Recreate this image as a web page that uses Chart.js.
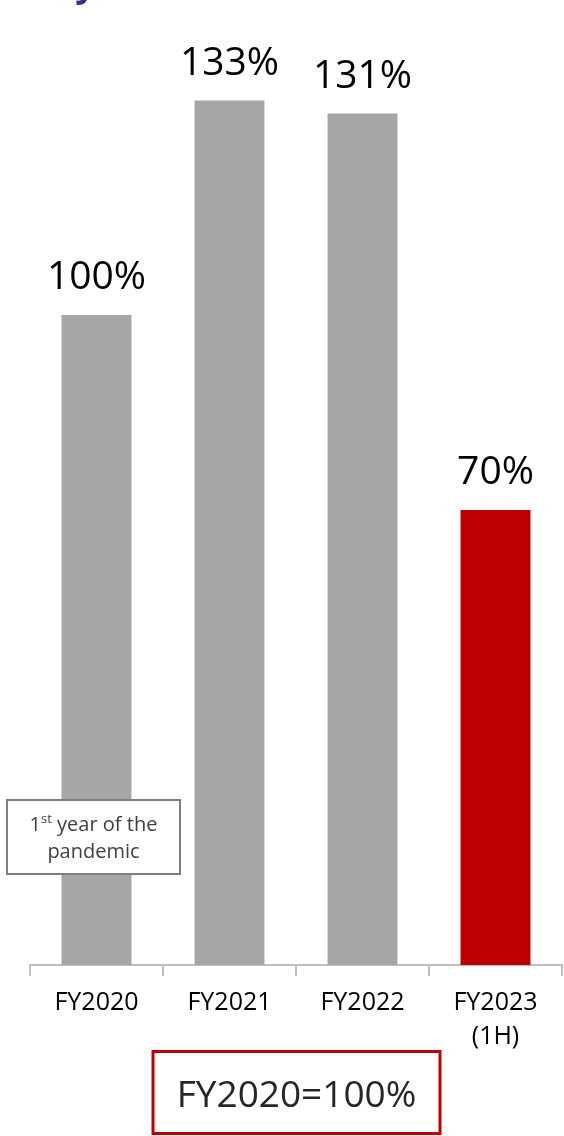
<!DOCTYPE html>
<html lang="en">
<head>
    <meta charset="UTF-8">
    <title>FY index</title>
    <style>
        * { box-sizing: border-box; }
        body { margin: 0; background: #fff; }
        .wrap { width: 564px; height: 1136px; position: relative; }
    </style>
</head>
<body>
    <div class="wrap">
        <canvas id="mychart"></canvas>
    </div>

    <script src="https://cdn.jsdelivr.net/npm/chart.js@4.4.1/dist/chart.umd.min.js"></script>
    <script>
        const years = ["FY2020", "FY2021", "FY2022", ["FY2023", "(1H)"]];
        const ratio = [100, 133, 131, 70];
        const barColors = ["#a6a6a6", "#a6a6a6", "#a6a6a6", "#c00000"];
        const baseNote = "FY2020=100%";

        const FONT = "'Open Sans', 'Noto Sans', sans-serif";

        // % labels above each bar
        const valueLabels = {
            id: "valueLabels",
            afterDatasetsDraw(chart) {
                const ctx = chart.ctx;
                const meta = chart.getDatasetMeta(0);
                ctx.save();
                ctx.font = "39px " + FONT;
                ctx.fillStyle = "#000";
                ctx.textAlign = "center";
                ctx.textBaseline = "alphabetic";
                meta.data.forEach((bar, i) => {
                    ctx.fillText(ratio[i] + "%", bar.x, bar.y - 26);
                });
                ctx.restore();
            }
        };

        // callout boxes and the cut-off heading above
        const extras = {
            id: "extras",
            afterDraw(chart) {
                const ctx = chart.ctx;
                ctx.save();

                // tail of the heading
                ctx.font = "italic bold 36px " + FONT;
                ctx.fillStyle = "#2e3192";
                ctx.textBaseline = "alphabetic";
                ctx.textAlign = "left";
                ctx.fillText("y", 79, -4);

                // note box on the first bar
                ctx.fillStyle = "#fff";
                ctx.fillRect(7, 800, 173, 74);
                ctx.strokeStyle = "#7f7f7f";
                ctx.lineWidth = 2;
                ctx.strokeRect(7, 800, 173, 74);

                ctx.fillStyle = "#404040";
                const big = "20px " + FONT, small = "13px " + FONT;
                ctx.font = big;
                const w1 = ctx.measureText("1").width;
                const w3 = ctx.measureText(" year of the").width;
                ctx.font = small;
                const w2 = ctx.measureText("st").width;
                let x = 93.5 - (w1 + w2 + w3) / 2;
                ctx.textAlign = "left";
                ctx.font = big;
                ctx.fillText("1", x, 831);
                ctx.font = small;
                ctx.fillText("st", x + w1, 823);
                ctx.font = big;
                ctx.fillText(" year of the", x + w1 + w2, 831);
                ctx.textAlign = "center";
                ctx.fillText("pandemic", 93.5, 858);

                // base year box
                ctx.strokeStyle = "#c00000";
                ctx.lineWidth = 3;
                ctx.strokeRect(153, 1051.5, 287, 82);
                ctx.fillStyle = "#262626";
                ctx.font = "37px " + FONT;
                ctx.textAlign = "center";
                ctx.fillText(baseNote, 296.5, 1107);

                ctx.restore();
            }
        };

        new Chart(document.getElementById("mychart"), {
            type: "bar",
            data: {
                labels: years,
                datasets: [
                    {
                        data: ratio,
                        backgroundColor: barColors,
                        borderWidth: 0,
                        categoryPercentage: 1,
                        barPercentage: 0.526,
                    },
                ],
            },
            options: {
                responsive: true,
                maintainAspectRatio: false,
                animation: false,
                layout: {
                    padding: { top: 55, left: 30, right: 2, bottom: 0 },
                },
                plugins: {
                    legend: { display: false },
                    tooltip: { enabled: false },
                },
                scales: {
                    x: {
                        afterFit: (s) => { s.height = 171; },
                        grid: {
                            offset: true,
                            drawOnChartArea: false,
                            tickLength: 11,
                            color: "#bfbfbf",
                            lineWidth: 2,
                        },
                        border: { color: "#bfbfbf", width: 2 },
                        ticks: {
                            color: "#000",
                            padding: 10,
                            maxRotation: 0,
                            font: { family: FONT, size: 25, lineHeight: 1.36 },
                        },
                    },
                    y: {
                        display: false,
                        min: 0,
                        max: 140,
                    },
                },
            },
            plugins: [valueLabels, extras],
        });
    </script>
</body>
</html>
